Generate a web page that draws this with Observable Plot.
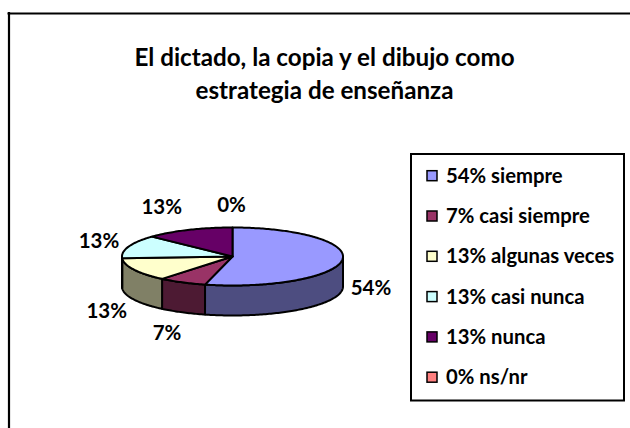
<!DOCTYPE html>
<html><head><meta charset="utf-8">
<script src="https://cdn.jsdelivr.net/npm/d3@7"></script>
<script src="https://cdn.jsdelivr.net/npm/@observablehq/plot@0.6"></script>
<style>html,body{margin:0;padding:0;background:#fff}svg{display:block}</style>
</head><body><div id="chart"></div>
<script>
const categories = ["siempre","casi siempre","algunas veces","casi nunca","nunca","ns/nr"];
const values = [54,7,13,13,13,0];
const titleLines = ["El dictado, la copia y el dibujo como","estrategia de enseñanza"];
const topColors = ["#9999ff","#993366","#ffffcc","#ccffff","#660066","#ff8080"];
const sideColors = ["#4d4d80","#4d1a33","#808066","#668080","#330033","#804040"];

// layout
const W=630,H=428, cx=232, cy=256, rx=110.5, ry=29, depth=30;
const total=d3.sum(values);
let cum=0;
const slices=values.map((v,i)=>{const a0=cum/total*360;cum+=v;return {i,v,a0,a1:cum/total*360,name:categories[i]};});
const rad=d=>d*Math.PI/180;
const px=a=>cx+rx*Math.sin(rad(a)), py=a=>cy-ry*Math.cos(rad(a));
const topPts=[], sidePts=[];
for(const s of slices){
  if(s.v===0) continue;
  const n=Math.max(2,Math.ceil(s.a1-s.a0));
  const row=(x,y,fill)=>({slice:s.i,x,y,fill});
  const ring=[row(cx,cy,topColors[s.i])];
  for(let k=0;k<=n;k++){const a=s.a0+(s.a1-s.a0)*k/n;ring.push(row(px(a),py(a),topColors[s.i]));}
  ring.push(row(cx,cy,topColors[s.i]));
  topPts.push(...ring);
  const b0=Math.max(s.a0,90), b1=Math.min(s.a1,270);
  if(b1>b0){
    const m=Math.ceil(b1-b0), up=[], dn=[];
    for(let k=0;k<=m;k++){const a=b0+(b1-b0)*k/m;up.push(row(px(a),py(a),sideColors[s.i]));dn.push(row(px(a),py(a)+depth,sideColors[s.i]));}
    sidePts.push(...up,...dn.reverse(),up[0]);
  }
}
// data labels placed from each slice's mid angle
const nudgeX=[4,-4,-5,-6,-17,-1], nudgeY=[-4,2,2,2,-3,-1];
const labels=slices.map(s=>{const m=(s.a0+s.a1)/2,c=Math.cos(rad(m));
  return {t:s.v+"%",x:cx+(rx+25)*Math.sin(rad(m))+nudgeX[s.i],y:cy-(ry+21)*c+(c<0?30:0)+nudgeY[s.i]};});
const legendX=411,legendY=154,legendR=624,legendB=400.5,rowH=40.3;
const legend=slices.map(s=>({t:s.v+"% "+s.name,fill:topColors[s.i],y:legendY+21.7+s.i*rowH}));

const font="Lato, 'Open Sans', sans-serif";
const chart=Plot.plot({
  width:W,height:H,margin:0,
  x:{domain:[0,W],range:[0,W],axis:null},
  y:{domain:[0,H],range:[0,H],axis:null},
  style:{background:"#fff",fontFamily:font},
  marks:[
    Plot.ruleY([13],{x1:()=>7.5,x2:()=>W,stroke:"#000",strokeWidth:2.2}),
    Plot.ruleX([8.5],{y1:()=>12,y2:()=>H,stroke:"#000",strokeWidth:2.2}),
    Plot.text(titleLines,{x:()=>324,y:(d,i)=>57.5+i*33.5,text:d=>d,fontSize:24.2,fontWeight:700,fill:"#000"}),
    Plot.line(sidePts,{x:"x",y:"y",z:"slice",fill:"fill",stroke:"#000",strokeWidth:2,curve:"linear"}),
    Plot.line(topPts,{x:"x",y:"y",z:"slice",fill:"fill",stroke:"#000",strokeWidth:2,curve:"linear"}),
    Plot.text(labels,{x:"x",y:"y",text:"t",fontSize:20.5,fontWeight:700,fill:"#000"}),
    Plot.rect([{}],{x1:()=>legendX,x2:()=>legendR,y1:()=>legendY,y2:()=>legendB,fill:"#fff",stroke:"#000",strokeWidth:2}),
    Plot.rect(legend,{x1:()=>427,x2:()=>437,y1:d=>d.y-5,y2:d=>d.y+5,fill:"fill",stroke:"#000",strokeWidth:1.5}),
    Plot.text(legend,{x:()=>445.5,y:"y",text:"t",textAnchor:"start",fontSize:20.3,fontWeight:700,fill:"#000"})
  ]
});
document.getElementById("chart").appendChild(chart);
</script></body></html>
